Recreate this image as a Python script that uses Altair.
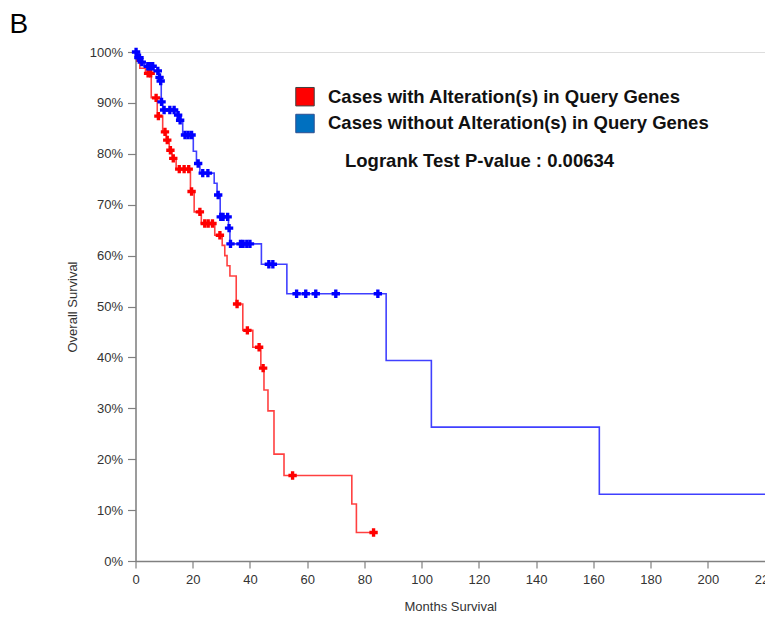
import altair as alt
import pandas as pd

# ---- data (months, survival %) ----
red_event_t = [0.5, 1.5, 3.5, 5.5, 7.6, 9.5, 10.8, 11.8, 12.8, 14.2, 19.2, 20.5, 23.0,
               27.7, 30.3, 31.2, 32.0, 33.0, 35.2, 37.5, 41.0, 43.8, 44.9, 46.3, 48.4,
               51.9, 75.6, 77.2]
red_event_s = [98.2, 96.8, 95.8, 91.0, 87.4, 84.3, 82.7, 80.7, 79.1, 77.0, 72.6, 68.6, 66.3,
               64.0, 62.0, 60.0, 58.0, 56.0, 50.5, 45.3, 42.0, 37.9, 33.6, 29.5, 21.0,
               16.8, 11.2, 5.6]
red_censor_t = [4.4, 5.3, 7.2, 8.0, 10.3, 11.1, 12.2, 13.2, 15.3, 17.0, 18.6, 19.6, 22.5,
                24.2, 25.4, 26.9, 29.5, 35.5, 39.1, 43.2, 44.6, 54.9, 83.2]

blue_event_t = [0.8, 1.8, 3.0, 6.5, 8.2, 8.6, 9.0, 9.5, 14.5, 15.3, 16.5, 20.2, 21.3, 22.5,
                27.5, 28.5, 29.6, 32.5, 33.0, 44.0, 52.9, 87.6, 103.4, 162.1]
blue_event_s = [98.9, 98.0, 97.2, 96.3, 95.0, 94.3, 90.2, 88.6, 87.6, 86.6, 83.7, 80.5, 78.1,
                76.2, 74.2, 71.9, 67.6, 65.4, 62.3, 58.3, 52.5, 39.4, 26.3, 13.1]
blue_censor_t = [0.2, 1.0, 1.4, 2.2, 4.3, 5.1, 6.0, 7.8, 8.4, 8.8, 9.1, 10.0, 12.0, 13.5,
                 14.9, 15.6, 17.3, 18.4, 19.6, 21.9, 23.5, 25.3, 28.9, 29.8, 30.6, 32.2,
                 32.7, 33.2, 36.7, 37.6, 38.9, 40.0, 46.6, 48.0, 56.3, 59.5, 63.0, 70.0,
                 84.7, 222.0]

groups = ["Cases with Alteration(s) in Query Genes",
          "Cases without Alteration(s) in Query Genes"]
line_colors = ["#ff0000", "#0000ff"]
legend_fill = ["#ff0000", "#0070c0"]
pvalue_text = "Logrank Test P-value : 0.00634"
x_ticks = [0, 20, 40, 60, 80, 100, 120, 140, 160, 180, 200, 220]
y_ticks = [0, 10, 20, 30, 40, 50, 60, 70, 80, 90, 100]


def level_at(ev_t, ev_s, t):
    s = 100.0
    for et, es in zip(ev_t, ev_s):
        if et <= t:
            s = es
    return s


def build(ev_t, ev_s, cen_t, g):
    line_rows = [{"t": 0.0, "s": 100.0, "g": g}]
    for t, s in zip(ev_t, ev_s):
        line_rows.append({"t": t, "s": s, "g": g})
    line_rows.append({"t": max(cen_t), "s": ev_s[-1], "g": g})
    cen_rows = [{"t": t, "s": level_at(ev_t, ev_s, t), "g": g} for t in cen_t]
    return line_rows, cen_rows


rl, rc = build(red_event_t, red_event_s, red_censor_t, groups[0])
bl, bc = build(blue_event_t, blue_event_s, blue_censor_t, groups[1])
lines_df = pd.DataFrame(rl + bl)
cens_df = pd.DataFrame(rc + bc)

PLOT_W = 629.5
X_MAX = 220  # the reference is cut at the right edge, just past 220 months

FONT = "Liberation Sans"
axis_common = dict(grid=False, domainColor="#808080", tickColor="#808080",
                   domainWidth=1.5, tickWidth=1.2,
                   labelColor="#333333", titleColor="#333333",
                   labelFont=FONT, titleFont=FONT, labelFontSize=13,
                   titleFontSize=13, titleFontWeight="normal")

x_enc = alt.X("t:Q", scale=alt.Scale(domain=[0, X_MAX], nice=False, zero=False),
              axis=alt.Axis(values=x_ticks, title="Months Survival", tickSize=7,
                            labelPadding=5, titlePadding=14, labelFlush=False,
                            labelOverlap=False, **axis_common))
y_enc = alt.Y("s:Q", scale=alt.Scale(domain=[0, 100], nice=False),
              axis=alt.Axis(values=y_ticks, title="Overall Survival", tickSize=8,
                            labelPadding=5, titlePadding=10,
                            labelExpr="datum.value + '%'", **axis_common))
color_enc = alt.Color("g:N", scale=alt.Scale(domain=groups, range=line_colors), legend=None)

lines = alt.Chart(lines_df).mark_line(interpolate="step-after", strokeWidth=1.6,
                                       opacity=0.75).encode(
    x=x_enc, y=y_enc, color=color_enc, detail="g:N")

cens = alt.Chart(cens_df).mark_point(shape="cross", filled=True, size=70,
                                      opacity=1).encode(
    x="t:Q", y="s:Q", color=color_enc)

leg_df1 = pd.DataFrame({"label": [groups[0]]})
leg_df2 = pd.DataFrame({"label": [groups[1]]})
pv_df = pd.DataFrame({"label": [pvalue_text]})
b_df = pd.DataFrame({"label": ["B"]})

sq1 = alt.Chart(leg_df1).mark_point(shape="square", filled=True, size=340,
                                     fill=legend_fill[0], stroke="#404040",
                                     strokeWidth=1, opacity=1).encode(
    x=alt.value(169.5), y=alt.value(44.7))
sq2 = alt.Chart(leg_df2).mark_point(shape="square", filled=True, size=340,
                                     fill=legend_fill[1], stroke="#2f4f8f",
                                     strokeWidth=1, opacity=1).encode(
    x=alt.value(169.5), y=alt.value(71.5))
txt_style = dict(align="left", baseline="alphabetic", font=FONT, fontSize=18.5,
                 fontWeight="bold", color="#111111")
t1 = alt.Chart(leg_df1).mark_text(**txt_style).encode(
    x=alt.value(192.5), y=alt.value(51.3), text="label:N")
t2 = alt.Chart(leg_df2).mark_text(**txt_style).encode(
    x=alt.value(192.5), y=alt.value(77.2), text="label:N")
t3 = alt.Chart(pv_df).mark_text(**txt_style).encode(
    x=alt.value(209.5), y=alt.value(115), text="label:N")
tb = alt.Chart(b_df).mark_text(align="left", baseline="alphabetic", font=FONT,
                               fontSize=28, color="#000000").encode(
    x=alt.value(-126), y=alt.value(-18.7), text="label:N")

chart = alt.layer(lines, cens, sq1, sq2, t1, t2, t3, tb).properties(
    width=PLOT_W, height=509,
    autosize=alt.AutoSizeParams(type="none"),
    padding={"left": 127.5, "top": 44, "right": 0, "bottom": 52},
).configure_view(stroke=None).configure(background="white")

chart.save("out.html", embed_options={"renderer": "svg", "actions": False})
